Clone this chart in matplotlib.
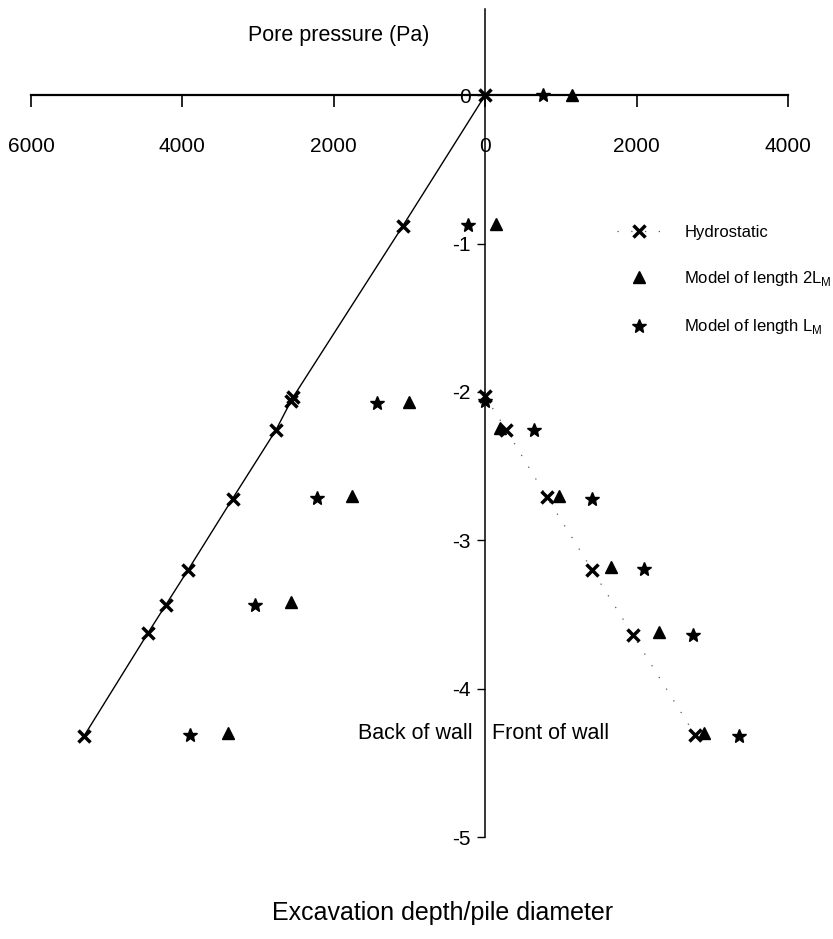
import matplotlib
matplotlib.use('Agg')
import matplotlib.pyplot as plt
from matplotlib.ticker import FuncFormatter

plt.rcParams['font.family'] = ['Liberation Sans', 'DejaVu Sans']
plt.rcParams['mathtext.fontset'] = 'custom'
plt.rcParams['mathtext.rm'] = 'Liberation Sans'
plt.rcParams['axes.unicode_minus'] = False

# back of wall = negative pressure side, front of wall = positive side
hydro_back_p = [0, -1087, -2538, -2569, -2767, -3338, -3923, -4222, -4459, -5300]
hydro_back_d = [0, -0.88, -2.035, -2.064, -2.259, -2.719, -3.197, -3.437, -3.627, -4.318]

hydro_front_p = [0, 277, 813, 1411, 1948, 2774]
hydro_front_d = [-2.03, -2.254, -2.708, -3.197, -3.634, -4.312]

# model of length 2L_M
m2_p = [1142, 145, -1008, -1760, -2569, -3404, 189, 971, 1662, 2290, 2893]
m2_d = [0, -0.868, -2.07, -2.70, -3.415, -4.296, -2.241, -2.703, -3.18, -3.62, -4.30]

# model of length L_M
m1_p = [769, -230, -1430, -2216, -3044, -3901, 0, 641, 1406, 2101, 2739, 3346]
m1_d = [0, -0.873, -2.075, -2.712, -3.432, -4.312, -2.06, -2.254, -2.719, -3.194, -3.634, -4.316]

xticks = [-6000, -4000, -2000, 0, 2000, 4000]
yticks = [0, -1, -2, -3, -4, -5]

fig = plt.figure(figsize=(8.33, 9.39), dpi=100)
ax = fig.add_axes([0.0372, 0.1083, 0.9088, 0.8821])

ax.plot(hydro_back_p, hydro_back_d, color='black', lw=1.0,
        marker='x', ms=8.5, mew=2.5, zorder=3)
ax.plot(hydro_front_p, hydro_front_d, color='0.35', lw=0.9, ls=(0, (1, 10)),
        marker='x', ms=8.5, mew=2.5, mec='black', zorder=3, label='Hydrostatic')
ax.plot(m2_p, m2_d, ls='none', marker='^', ms=8.5, color='black', zorder=3,
        label='Model of length 2L$_\\mathregular{M}$')
ax.plot(m1_p, m1_d, ls='none', marker='*', ms=10.5, color='black', zorder=3,
        label='Model of length L$_\\mathregular{M}$')

# axes cross at the origin
ax.spines['left'].set_position(('data', 0))
ax.spines['bottom'].set_position(('data', 0))
ax.spines['top'].set_visible(False)
ax.spines['right'].set_visible(False)
ax.spines['bottom'].set_linewidth(1.6)
ax.spines['left'].set_linewidth(1.1)

ax.set_xlim(-6000, 4000)
ax.set_ylim(-5, 0.58)
ax.set_xticks(xticks)
ax.set_yticks(yticks)
ax.xaxis.set_major_formatter(FuncFormatter(lambda v, pos: f'{abs(v):.0f}'))
ax.yaxis.set_major_formatter(FuncFormatter(lambda v, pos: f'{v:.0f}'))
ax.tick_params(axis='x', direction='out', length=8.5, width=1.2, pad=22, labelsize=15)
ax.tick_params(axis='y', direction='out', length=5.5, width=1.0, pad=5, labelsize=15)

ax.text(-170, -4.30, 'Back of wall', ha='right', va='center', fontsize=15.5)
ax.text(96, -4.30, 'Front of wall', ha='left', va='center', fontsize=15.5)

fig.text(0.406, 1 - 35 / 939, 'Pore pressure (Pa)', ha='center', va='center', fontsize=15.5)
fig.text(0.531, 1 - 913 / 939, 'Excavation depth/pile diameter', ha='center', va='center', fontsize=18)

ax.legend(loc='upper left', bbox_to_anchor=(617 / 833, 1 - 225 / 939),
          bbox_transform=fig.transFigure, frameon=False, fontsize=12,
          handlelength=2.6, handletextpad=1.45, labelspacing=1.75,
          borderpad=0, borderaxespad=0, numpoints=1)

fig.savefig('out.png', dpi=100)
